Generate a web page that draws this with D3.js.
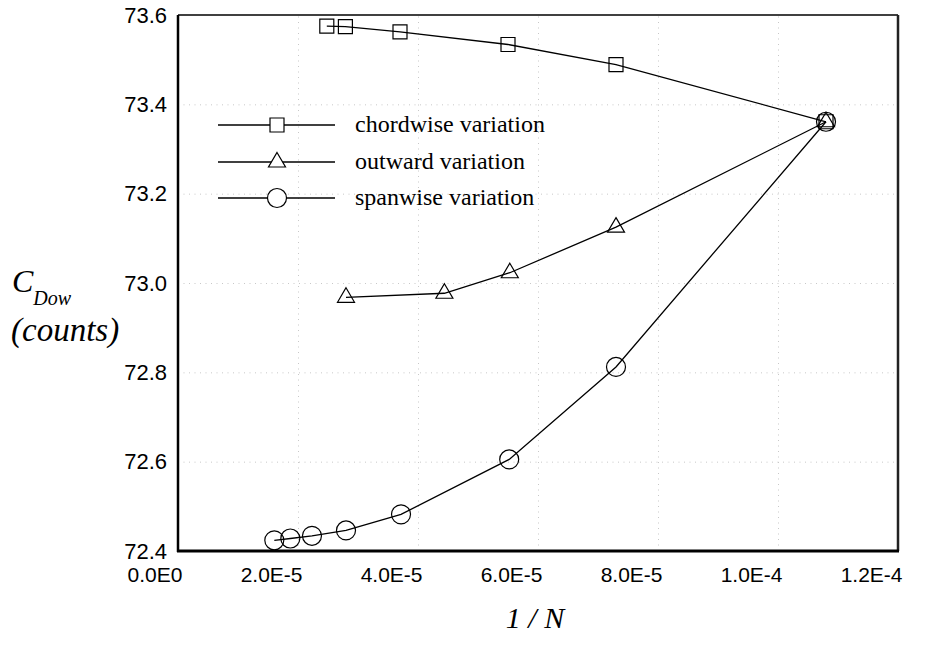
<!DOCTYPE html>
<html><head><meta charset="utf-8">
<script src="https://cdn.jsdelivr.net/npm/d3@7"></script>
<style>
html,body{margin:0;padding:0;background:#fff;}
svg{display:block;}
</style>
</head><body>
<svg id="chart" width="938" height="646"></svg>
<script>
// ---- data ----
const xTickValues = [0, 2e-5, 4e-5, 6e-5, 8e-5, 1e-4, 1.2e-4];
const xTickLabels = ["0.0E0", "2.0E-5", "4.0E-5", "6.0E-5", "8.0E-5", "1.0E-4", "1.2E-4"];
const yTickValues = [72.4, 72.6, 72.8, 73.0, 73.2, 73.4, 73.6];
const yTickLabels = ["72.4", "72.6", "72.8", "73.0", "73.2", "73.4", "73.6"];

const seriesNames = ["chordwise variation", "outward variation", "spanwise variation"];
const chordX = [2.48e-5, 2.79e-5, 3.7e-5, 5.5e-5, 7.3e-5, 1.08e-4];
const chordY = [73.575, 73.574, 73.562, 73.534, 73.489, 73.361];
const outX = [2.8e-5, 4.44e-5, 5.53e-5, 7.3e-5, 1.08e-4];
const outY = [72.968, 72.977, 73.023, 73.125, 73.361];
const spanX = [1.605e-5, 1.872e-5, 2.233e-5, 2.8e-5, 3.717e-5, 5.52e-5, 7.3e-5, 1.08e-4];
const spanY = [72.424, 72.428, 72.434, 72.446, 72.482, 72.605, 72.812, 73.361];

// ---- layout ----
const svg = d3.select("#chart");
const pL = 178, pR = 898, pT = 15, pB = 551;
const x = d3.scaleLinear().domain([0, 1.2e-4]).range([pL, pR]);
const y = d3.scaleLinear().domain([72.4, 73.6]).range([pB, pT]);

// grid
const grid = svg.append("g");
grid.append("g").attr("transform", `translate(0,${pB})`)
  .call(d3.axisBottom(x).tickValues(xTickValues.slice(1, -1)).tickSize(-(pB - pT)).tickFormat(""))
  .call(g => g.select(".domain").remove())
  .call(g => g.selectAll("line").attr("stroke", "#c8c8c8").attr("stroke-width", 1).attr("stroke-dasharray", "1,4.5"));
grid.append("g").attr("transform", `translate(${pL},0)`)
  .call(d3.axisLeft(y).tickValues(yTickValues.slice(1, -1)).tickSize(-(pR - pL)).tickFormat(""))
  .call(g => g.select(".domain").remove())
  .call(g => g.selectAll("line").attr("stroke", "#c8c8c8").attr("stroke-width", 1).attr("stroke-dasharray", "1,4.5"));

// axes labels
const xAxis = svg.append("g").attr("transform", `translate(0,${pB})`)
  .call(d3.axisBottom(x).tickValues(xTickValues).tickSize(0).tickPadding(16)
    .tickFormat((d, i) => xTickLabels[i]));
xAxis.select(".domain").remove();
xAxis.selectAll("text").attr("font-family", "'Liberation Sans', Arial, sans-serif")
  .attr("font-size", 21).attr("fill", "#000")
  .attr("text-anchor", "end").attr("x", 4);

const yAxis = svg.append("g").attr("transform", `translate(${pL},0)`)
  .call(d3.axisLeft(y).tickValues(yTickValues).tickSize(0).tickPadding(11)
    .tickFormat((d, i) => yTickLabels[i]));
yAxis.select(".domain").remove();
yAxis.selectAll("text").attr("font-family", "'Liberation Sans', Arial, sans-serif")
  .attr("font-size", 22).attr("fill", "#000");

// frame
svg.append("line").attr("x1", pL).attr("x2", pR).attr("y1", pT).attr("y2", pT)
  .attr("stroke", "#000").attr("stroke-width", 1.5);
svg.append("line").attr("x1", pR).attr("x2", pR).attr("y1", pT).attr("y2", pB)
  .attr("stroke", "#222").attr("stroke-width", 2.5);
svg.append("line").attr("x1", pL).attr("x2", pL).attr("y1", pT).attr("y2", pB + 1)
  .attr("stroke", "#000").attr("stroke-width", 2.5);
svg.append("line").attr("x1", pL - 1).attr("x2", pR + 1).attr("y1", pB).attr("y2", pB)
  .attr("stroke", "#000").attr("stroke-width", 2.8);

// markers
const squarePath = "M-7,-7H7V7H-7Z";
const trianglePath = "M0,-9.5L8.5,5L-8.5,5Z";
function drawMarker(g, kind, cx, cy) {
  if (kind === 0) g.append("path").attr("d", squarePath).attr("transform", `translate(${cx},${cy})`);
  else if (kind === 1) g.append("path").attr("d", trianglePath).attr("transform", `translate(${cx},${cy})`);
  else g.append("circle").attr("cx", cx).attr("cy", cy).attr("r", 9.5);
}

const seriesList = [
  {xs: chordX, ys: chordY},
  {xs: outX, ys: outY},
  {xs: spanX, ys: spanY}
];
const line = d3.line().x(d => x(d[0])).y(d => y(d[1]));
seriesList.forEach((s, k) => {
  const pts = s.xs.map((v, i) => [v, s.ys[i]]);
  svg.append("path").attr("d", line(pts)).attr("fill", "none")
    .attr("stroke", "#000").attr("stroke-width", 1.3);
  const mg = svg.append("g").attr("fill", "none").attr("stroke", "#000").attr("stroke-width", 1.2);
  pts.forEach(p => drawMarker(mg, k, x(p[0]), y(p[1])));
});

// legend
const legY = [125, 162, 198];
const leg = svg.append("g");
seriesNames.forEach((name, k) => {
  leg.append("line").attr("x1", 218).attr("x2", 335).attr("y1", legY[k]).attr("y2", legY[k])
    .attr("stroke", "#000").attr("stroke-width", 1.3);
  const mg = leg.append("g").attr("fill", "#fff").attr("stroke", "#000").attr("stroke-width", 1.2);
  drawMarker(mg, k, 277, legY[k]);
  leg.append("text").attr("x", 355).attr("y", legY[k] + 7)
    .attr("font-family", "'Liberation Serif', 'Times New Roman', serif")
    .attr("font-size", 24).attr("fill", "#000").text(name);
});

// axis titles
svg.append("text").attr("x", (pL + pR) / 2 - 3).attr("y", 628).attr("text-anchor", "middle")
  .attr("font-family", "'Liberation Serif', 'Times New Roman', serif").attr("font-style", "italic")
  .attr("font-size", 30).attr("fill", "#000").text("1 / N");

const yt = svg.append("text").attr("x", 12).attr("y", 292)
  .attr("font-family", "'Liberation Serif', 'Times New Roman', serif").attr("font-style", "italic")
  .attr("fill", "#000");
yt.append("tspan").attr("font-size", 32).text("C");
yt.append("tspan").attr("font-size", 20).attr("dy", 13).text("Dow");
svg.append("text").attr("x", 11).attr("y", 341)
  .attr("font-family", "'Liberation Serif', 'Times New Roman', serif").attr("font-style", "italic")
  .attr("font-size", 33).attr("fill", "#000").text("(counts)");
</script>
</body></html>
